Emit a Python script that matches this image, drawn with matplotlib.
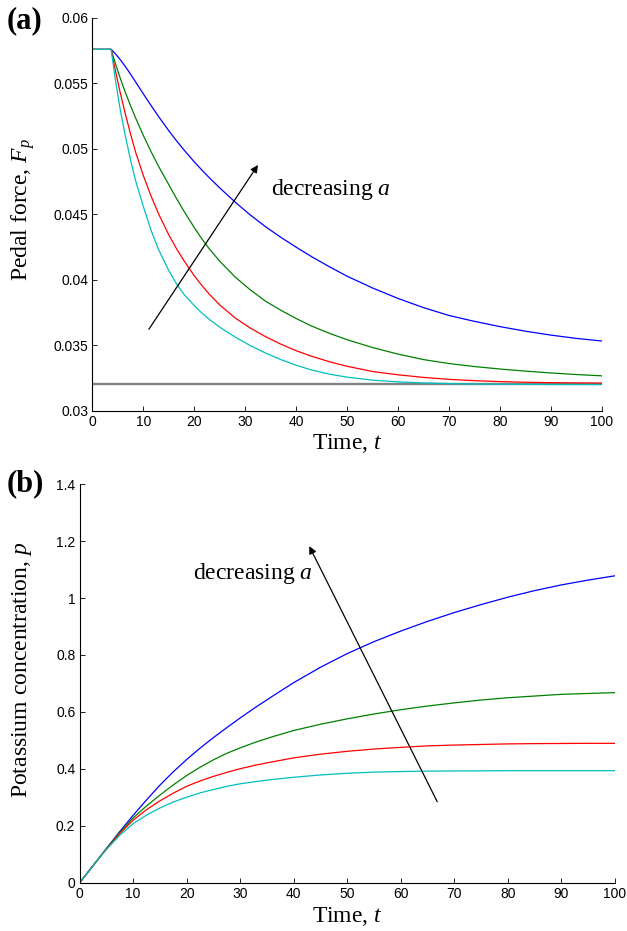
import matplotlib
matplotlib.use("Agg")
import matplotlib.pyplot as plt
from matplotlib.ticker import FuncFormatter, MultipleLocator

plt.rcParams["font.family"] = ["Liberation Sans", "DejaVu Sans"]
plt.rcParams["mathtext.fontset"] = "custom"
plt.rcParams["mathtext.rm"] = "Liberation Serif"
plt.rcParams["mathtext.it"] = "Liberation Serif:italic"

SERIF = ["Liberation Serif", "DejaVu Serif"]
COLORS = ["#0000ff", "#008000", "#ff0000", "#00bfbf"]

# (a) pedal force after the stimulus switches on at t ~ 3.7
t_force = [0, 3.7, 4.5, 5.5, 6.5, 7.5, 8.5, 10, 11.5, 13, 15, 16.5, 18, 20,
           21.5, 23, 25, 28, 31, 34, 37, 40, 43, 46.5, 50, 55, 60, 65, 70,
           75, 80, 85, 90, 95, 100]
force_blue = [0.0576, 0.0576, 0.05728, 0.05681, 0.05628, 0.05571, 0.05511,
              0.05421, 0.05333, 0.05247, 0.05139, 0.05063, 0.04991, 0.04901,
              0.04838, 0.04778, 0.04702, 0.04594, 0.04495, 0.04405, 0.04324,
              0.04249, 0.04177, 0.04100, 0.04027, 0.03937, 0.03857, 0.03787,
              0.03727, 0.03682, 0.03642, 0.03607, 0.03577, 0.03552, 0.03532]
force_green = [0.0576, 0.0576, 0.05656, 0.05538, 0.0543, 0.0533, 0.05236,
               0.05104, 0.04981, 0.04867, 0.04727, 0.04622, 0.04523, 0.04399,
               0.04312, 0.04234, 0.04142, 0.04022, 0.03923, 0.03836, 0.03767,
               0.03704, 0.03647, 0.03591, 0.03542, 0.03482, 0.03432, 0.0339,
               0.0336, 0.03337, 0.03318, 0.03302, 0.03288, 0.03276, 0.03266]
force_red = [0.0576, 0.0576, 0.05604, 0.05426, 0.05264, 0.05114, 0.04975,
             0.04798, 0.04642, 0.04504, 0.04344, 0.04239, 0.04145, 0.04031,
             0.03956, 0.03888, 0.03808, 0.03709, 0.03631, 0.03565, 0.03508,
             0.03458, 0.03416, 0.03374, 0.03339, 0.03299, 0.03274, 0.03254,
             0.03239, 0.03229, 0.03222, 0.03217, 0.03214, 0.03212, 0.03211]
force_cyan = [0.0576, 0.0576, 0.05536, 0.05296, 0.05096, 0.04916, 0.04756,
              0.04561, 0.04381, 0.04231, 0.0407, 0.0397, 0.03888, 0.03803,
              0.03746, 0.03696, 0.03638, 0.03563, 0.03497, 0.0344, 0.0339,
              0.03347, 0.03311, 0.03279, 0.03256, 0.03233, 0.0322, 0.03212,
              0.03207, 0.03204, 0.03202, 0.03201, 0.0320, 0.0320, 0.0320]
force_floor = 0.032

# (b) potassium build-up
t_pot = [0, 2.5, 5, 7.5, 10, 12.5, 15, 17.5, 20, 22.5, 25, 27.5, 30, 33, 36,
         40, 45, 50, 55, 60, 65, 70, 75, 80, 85, 90, 95, 100]
pot_blue = [0, 0.06, 0.12, 0.18, 0.237, 0.291, 0.343, 0.39, 0.433, 0.473, 0.51,
            0.545, 0.579, 0.618, 0.655, 0.703, 0.757, 0.805, 0.847, 0.884, 0.918,
            0.949, 0.977, 1.003, 1.026, 1.046, 1.063, 1.078]
pot_green = [0, 0.06, 0.12, 0.177, 0.228, 0.27, 0.308, 0.344, 0.377, 0.406, 0.432,
             0.455, 0.474, 0.495, 0.513, 0.535, 0.557, 0.576, 0.593, 0.608, 0.621,
             0.632, 0.642, 0.650, 0.656, 0.662, 0.665, 0.668]
pot_red = [0, 0.06, 0.118, 0.173, 0.22, 0.257, 0.288, 0.315, 0.339, 0.358, 0.374,
           0.388, 0.401, 0.414, 0.425, 0.439, 0.452, 0.462, 0.47, 0.476, 0.481,
           0.484, 0.486, 0.488, 0.489, 0.4895, 0.49, 0.49]
pot_cyan = [0, 0.06, 0.117, 0.167, 0.208, 0.238, 0.263, 0.284, 0.301, 0.316, 0.328,
            0.339, 0.348, 0.356, 0.363, 0.371, 0.379, 0.385, 0.389, 0.391, 0.3925,
            0.393, 0.3935, 0.394, 0.394, 0.394, 0.394, 0.394]


def style_axes(ax):
    for side in ("top", "right"):
        ax.spines[side].set_visible(False)
    for side in ("left", "bottom"):
        ax.spines[side].set_linewidth(0.8)
    ax.tick_params(direction="in", length=3.4, width=0.6, labelsize=10,
                   top=False, right=False, pad=3)
    ax.yaxis.set_major_formatter(FuncFormatter(lambda v, _: f"{v:g}"))


fig = plt.figure(figsize=(6.27, 9.31), dpi=100)

ax1 = fig.add_axes([0.1472, 0.5589, 0.8129, 0.4218])
ax1.axhline(force_floor, color="#808080", lw=1.7, zorder=1)
for series, c in zip([force_blue, force_green, force_red, force_cyan], COLORS):
    ax1.plot(t_force, series, color=c, lw=0.9, zorder=2)
ax1.set_xlim(0, 100)
ax1.set_ylim(0.03, 0.06)
ax1.xaxis.set_major_locator(MultipleLocator(10))
ax1.yaxis.set_major_locator(MultipleLocator(0.005))
style_axes(ax1)
ax1.set_xlabel("Time, $t$", family=SERIF, fontsize=17, labelpad=2)
ax1.set_ylabel("Pedal force, $F_p$", family=SERIF, fontsize=17)
ax1.yaxis.set_label_coords(-0.1085, 0.513)
ax1.annotate("", xy=(32.5, 0.04877), xytext=(11.1, 0.03622),
             arrowprops=dict(arrowstyle="-|>", color="black", lw=0.9,
                             mutation_scale=11, shrinkA=0, shrinkB=0))
ax1.text(35.0, 0.04648, "decreasing $a$", family=SERIF, fontsize=17,
         ha="left", va="baseline")

ax2 = fig.add_axes([0.1268, 0.0516, 0.8541, 0.4285])
for series, c in zip([pot_blue, pot_green, pot_red, pot_cyan], COLORS):
    ax2.plot(t_pot, series, color=c, lw=0.9)
ax2.set_xlim(0, 100)
ax2.set_ylim(0, 1.4)
ax2.xaxis.set_major_locator(MultipleLocator(10))
ax2.yaxis.set_major_locator(MultipleLocator(0.2))
style_axes(ax2)
ax2.set_xlabel("Time, $t$", family=SERIF, fontsize=17, labelpad=3)
ax2.set_ylabel("Potassium concentration, $p$", family=SERIF, fontsize=17)
ax2.yaxis.set_label_coords(-0.085, 0.534)
ax2.annotate("", xy=(42.9, 1.182), xytext=(66.8, 0.285),
             arrowprops=dict(arrowstyle="-|>", color="black", lw=0.9,
                             mutation_scale=11, shrinkA=0, shrinkB=0))
ax2.text(21.2, 1.0656, "decreasing $a$", family=SERIF, fontsize=17,
         ha="left", va="baseline")

fig.text(7 / 627, 1 - 20.5 / 931, "(a)", family=SERIF, fontsize=22,
         fontweight="bold", ha="left", va="center")
fig.text(7 / 627, 1 - 484 / 931, "(b)", family=SERIF, fontsize=22,
         fontweight="bold", ha="left", va="center")

fig.savefig("out.png", dpi=100)
